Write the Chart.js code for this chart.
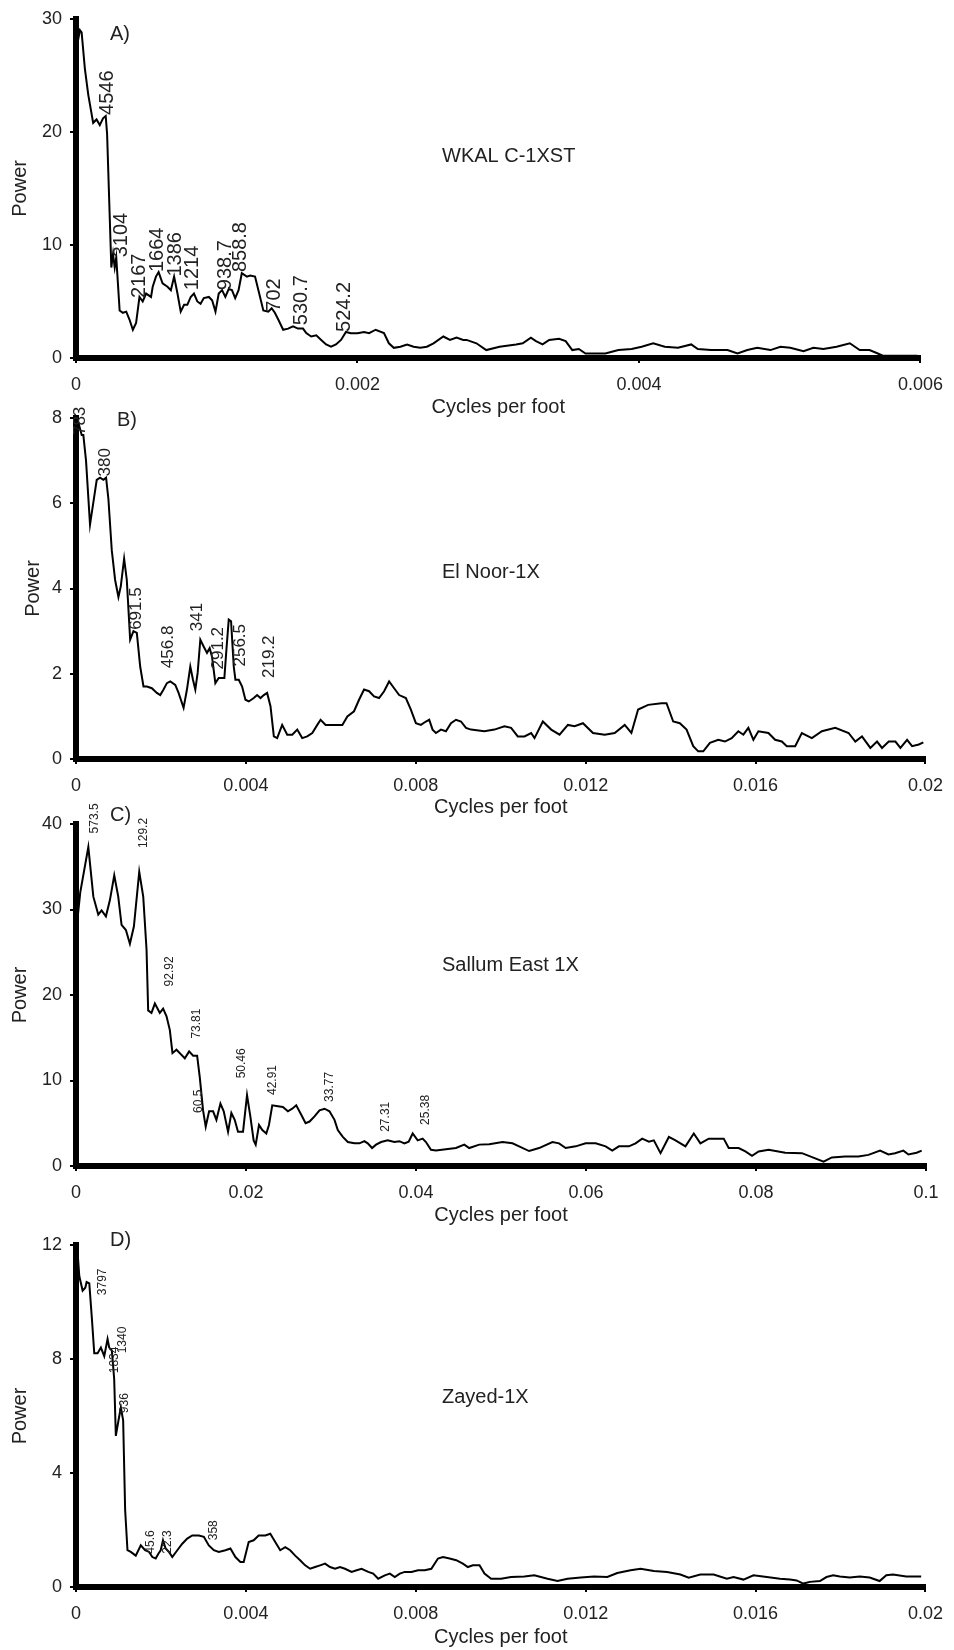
<!DOCTYPE html>
<html>
<head>
<meta charset="utf-8">
<script src="https://cdn.jsdelivr.net/npm/chart.js@4"></script>
<style>
  body { margin: 0; background: #fff; width: 954px; height: 1650px; overflow: hidden; position: relative; }
  canvas { position: absolute; left: 0; }
</style>
</head>
<body>
<canvas id="chartA" width="954" height="423" style="top:0px"></canvas>
<canvas id="chartB" width="954" height="433" style="top:390px"></canvas>
<canvas id="chartC" width="954" height="435" style="top:796px"></canvas>
<canvas id="chartD" width="954" height="431" style="top:1222px"></canvas>
<script>
// ---- A) WKAL C-1XST ----
const freqA = [0, 0.000016, 0.000028, 0.00004, 0.000063, 0.000087, 0.000122, 0.000146, 0.000169, 0.000192,
  0.000211, 0.000221, 0.000251, 0.000263, 0.000275, 0.000286, 0.00031, 0.000333, 0.000357, 0.00038,
  0.000404, 0.000427, 0.000451, 0.000474, 0.000498, 0.000533, 0.000545, 0.000568, 0.000587, 0.000615,
  0.00065, 0.000674, 0.000697, 0.000721, 0.000744, 0.000768, 0.000791, 0.000815, 0.000838, 0.000862,
  0.000885, 0.000908, 0.000944, 0.000967, 0.000991, 0.001014, 0.001038, 0.001061, 0.001085, 0.001108,
  0.001131, 0.001155, 0.001178, 0.001214, 0.001237, 0.001272, 0.001296, 0.001331, 0.001366, 0.00139,
  0.001413, 0.001437, 0.001472, 0.001507, 0.001542, 0.001577, 0.001613, 0.001636, 0.001671, 0.001707,
  0.001742, 0.001777, 0.001812, 0.001847, 0.001883, 0.001918, 0.001953, 0.002, 0.002047, 0.002082,
  0.002129, 0.002188, 0.002223, 0.002258, 0.002305, 0.002352, 0.002399, 0.002446, 0.002493, 0.00254,
  0.00261, 0.002657, 0.002704, 0.002751, 0.002775, 0.002845, 0.002915, 0.003009, 0.003127, 0.003174,
  0.003232, 0.003268, 0.003315, 0.003362, 0.003432, 0.003479, 0.003526, 0.003573, 0.00362, 0.003667,
  0.003761, 0.003854, 0.003948, 0.004019, 0.004101, 0.004183, 0.004277, 0.004371, 0.004418, 0.004512,
  0.004629, 0.0047, 0.00477, 0.00484, 0.004934, 0.005005, 0.005075, 0.005169, 0.005239, 0.00531,
  0.005404, 0.005498, 0.005568, 0.005638, 0.005697, 0.005732, 0.005979];
const powerA = [30, 28.2, 29, 28.8, 25.6, 23.3, 20.8, 21.1, 20.6, 21.2,
  21.4, 19.8, 8.0, 9.2, 8.0, 8.9, 4.2, 4.0, 4.1, 3.4,
  2.5, 3.1, 5.4, 5.0, 5.7, 5.4, 6.3, 7.2, 7.6, 6.6,
  6.3, 6.0, 7.2, 5.7, 4.1, 4.7, 4.7, 5.4, 5.7, 5.0,
  4.8, 5.3, 5.4, 5.1, 4.1, 5.7, 6.0, 5.4, 6.1, 6.0,
  5.3, 6.0, 7.5, 7.2, 7.3, 7.2, 6.0, 4.2, 4.1, 4.4,
  4.0, 3.4, 2.5, 2.6, 2.8, 2.6, 2.6, 2.2, 1.9, 2.0,
  1.6, 1.2, 1.0, 1.2, 1.6, 2.3, 2.2, 2.2, 2.3, 2.2,
  2.5, 2.2, 1.3, 0.9, 1.0, 1.2, 1.0, 0.9, 1.0, 1.3,
  1.9, 1.6, 1.8, 1.6, 1.6, 1.3, 0.7, 1.0, 1.2, 1.3,
  1.8, 1.5, 1.2, 1.6, 1.7, 1.5, 0.7, 0.8, 0.4, 0.4,
  0.4, 0.7, 0.8, 1.0, 1.3, 1.0, 0.9, 1.2, 0.8, 0.7,
  0.7, 0.4, 0.7, 0.9, 0.7, 1.0, 0.9, 0.6, 0.9, 0.8,
  1.0, 1.3, 0.7, 0.7, 0.4, 0.2, 0.2];
const peakTextA = ['4546', '3104', '2167', '1664', '1386', '1214', '938.7', '858.8', '702', '530.7', '524.2'];
const peakXA = [0.000221, 0.000322, 0.000451, 0.00058, 0.000709, 0.000826, 0.001061, 0.001167, 0.001413, 0.001601, 0.001906];
const peakYA = [21.5, 8.9, 5.3, 7.6, 7.2, 6.0, 6.0, 7.6, 4.1, 2.9, 2.3];
const xTicksA = [0, 0.002, 0.004, 0.006];
const yTicksA = [0, 10, 20, 30];

// ---- B) El Noor-1X ----
const freqB = [0, 0.000055, 0.000134, 0.000173, 0.000236, 0.00033, 0.000488, 0.000566, 0.000645, 0.000708,
  0.000763, 0.000842, 0.000921, 0.000999, 0.001054, 0.001133, 0.001196, 0.001275, 0.001353, 0.001432,
  0.001511, 0.001589, 0.001668, 0.001786, 0.001904, 0.001983, 0.002061, 0.00214, 0.002219, 0.002337,
  0.002415, 0.002533, 0.002612, 0.002691, 0.002754, 0.002809, 0.002864, 0.002927, 0.003005, 0.003084,
  0.003147, 0.003202, 0.003281, 0.00336, 0.003438, 0.003493, 0.003541, 0.003596, 0.003651, 0.003714,
  0.003753, 0.003832, 0.003911, 0.003989, 0.004068, 0.004186, 0.004264, 0.004343, 0.004422, 0.0045,
  0.004579, 0.004658, 0.004736, 0.004854, 0.004973, 0.005091, 0.005209, 0.005326, 0.005444, 0.005563,
  0.005681, 0.005759, 0.005877, 0.006074, 0.006271, 0.006389, 0.006546, 0.006664, 0.006782, 0.0069,
  0.007018, 0.007136, 0.007254, 0.007372, 0.00749, 0.007608, 0.007766, 0.007884, 0.008002, 0.00812,
  0.008238, 0.008316, 0.008395, 0.008474, 0.008592, 0.00871, 0.008828, 0.008946, 0.009064, 0.009182,
  0.0093, 0.009614, 0.009851, 0.010087, 0.010244, 0.010401, 0.010559, 0.010716, 0.010795, 0.010991,
  0.011188, 0.011385, 0.011581, 0.011739, 0.011936, 0.012172, 0.012447, 0.012683, 0.012919, 0.013076,
  0.013234, 0.01347, 0.013785, 0.013903, 0.01406, 0.014217, 0.014375, 0.014532, 0.01465, 0.014768,
  0.014925, 0.015122, 0.015279, 0.015437, 0.015594, 0.015712, 0.01583, 0.015948, 0.016066, 0.016302,
  0.01646, 0.016617, 0.016735, 0.016932, 0.017089, 0.017325, 0.017561, 0.017876, 0.01819, 0.018348,
  0.018505, 0.018702, 0.018859, 0.018977, 0.019135, 0.019292, 0.01941, 0.019567, 0.019685, 0.019843,
  0.01995];
const powerB = [8.0, 7.9, 7.6, 7.6, 7.0, 5.5, 6.55, 6.6, 6.55, 6.6,
  6.1, 4.9, 4.2, 3.8, 4.05, 4.7, 4.2, 2.8, 3.0, 2.96,
  2.17, 1.7, 1.7, 1.66, 1.55, 1.5, 1.63, 1.78, 1.82, 1.74,
  1.55, 1.2, 1.63, 2.17, 1.86, 1.63, 2.02, 2.8, 2.64, 2.49,
  2.6, 2.4, 1.78, 1.9, 1.9, 1.9, 2.56, 3.27, 3.23, 2.17,
  1.86, 1.86, 1.7, 1.39, 1.35, 1.43, 1.5, 1.43, 1.5, 1.55,
  1.24, 0.53, 0.49, 0.8, 0.57, 0.57, 0.69, 0.49, 0.53, 0.61,
  0.8, 0.92, 0.8, 0.8, 0.8, 1.0, 1.12, 1.39, 1.63, 1.59,
  1.47, 1.43, 1.59, 1.82, 1.66, 1.5, 1.43, 1.16, 0.84, 0.8,
  0.88, 0.92, 0.69, 0.61, 0.69, 0.65, 0.84, 0.92, 0.88, 0.73,
  0.69, 0.65, 0.69, 0.77, 0.73, 0.53, 0.53, 0.61, 0.49, 0.88,
  0.69, 0.57, 0.8, 0.77, 0.84, 0.61, 0.57, 0.61, 0.8, 0.61,
  1.16, 1.27, 1.31, 1.31, 0.88, 0.84, 0.69, 0.3, 0.18, 0.18,
  0.38, 0.45, 0.41, 0.49, 0.65, 0.57, 0.73, 0.45, 0.65, 0.61,
  0.45, 0.41, 0.3, 0.3, 0.61, 0.49, 0.65, 0.73, 0.61, 0.41,
  0.53, 0.26, 0.41, 0.26, 0.41, 0.41, 0.26, 0.45, 0.3, 0.34,
  0.39];
const peakTextB = ['783', '380', '691.5', '456.8', '341', '291.2', '256.5', '219.2'];
const peakXB = [0.000094, 0.000685, 0.00143, 0.00218, 0.00285, 0.00336, 0.00387, 0.00454];
const peakYB = [7.6, 6.63, 3.03, 2.13, 3.0, 2.1, 2.17, 1.9];
const xTicksB = [0, 0.004, 0.008, 0.012, 0.016, 0.02];
const yTicksB = [0, 2, 4, 6, 8];

// ---- C) Sallum East 1X ----
const freqC = [0, 0.0005, 0.00145, 0.00204, 0.00262, 0.00301, 0.00352, 0.00399, 0.0045, 0.00497,
  0.00536, 0.00587, 0.00634, 0.00681, 0.00744, 0.00791, 0.0083, 0.00849, 0.00888, 0.00928,
  0.00986, 0.01025, 0.01065, 0.01104, 0.01135, 0.01182, 0.01241, 0.0128, 0.01331, 0.01378,
  0.01425, 0.01456, 0.01495, 0.01526, 0.01566, 0.01613, 0.01652, 0.01699, 0.01738, 0.01789,
  0.01828, 0.01867, 0.01906, 0.01965, 0.02012, 0.02051, 0.0209, 0.02114, 0.02153, 0.02192,
  0.02239, 0.0227, 0.02309, 0.02376, 0.02434, 0.02493, 0.02544, 0.02591, 0.0265, 0.02701,
  0.02748, 0.02806, 0.02865, 0.02924, 0.02982, 0.03041, 0.0308, 0.03139, 0.03198, 0.03276,
  0.03335, 0.03393, 0.03432, 0.03483, 0.0353, 0.03589, 0.03667, 0.03746, 0.03804, 0.03863,
  0.03914, 0.03961, 0.0402, 0.04078, 0.04117, 0.04176, 0.04235, 0.04352, 0.0447, 0.04568,
  0.04626, 0.04744, 0.04861, 0.05018, 0.05135, 0.05213, 0.05331, 0.05448, 0.05605, 0.05683,
  0.05761, 0.05879, 0.05996, 0.06114, 0.06231, 0.06309, 0.06387, 0.06505, 0.06583, 0.06661,
  0.0674, 0.06798, 0.06877, 0.06975, 0.07053, 0.0717, 0.07268, 0.07346, 0.07444, 0.07562,
  0.0762, 0.07679, 0.07796, 0.07875, 0.07953, 0.08031, 0.08149, 0.08344, 0.0854, 0.08697,
  0.08795, 0.08892, 0.09049, 0.09205, 0.09323, 0.0946, 0.09558, 0.09636, 0.09734, 0.09793,
  0.0989, 0.09949];
const powerC = [27.2, 32, 37.3, 31.5, 29.4, 29.9, 29.2, 31.1, 34.0, 31.5,
  28.2, 27.6, 26.0, 28.0, 34.4, 31.5, 25.3, 18.2, 17.9, 19.0,
  17.9, 18.4, 17.5, 15.9, 13.2, 13.6, 13.0, 12.6, 13.4, 12.9,
  12.9, 10.4, 6.5, 4.6, 6.4, 6.4, 5.4, 7.3, 6.4, 4.0,
  6.2, 5.4, 4.0, 4.0, 8.3, 5.8, 3.0, 2.5, 4.8, 4.2,
  3.8, 4.8, 7.1, 7.0, 6.9, 6.4, 6.7, 7.1, 6.0, 5.0,
  5.2, 5.8, 6.5, 6.7, 6.4, 5.4, 4.2, 3.4, 2.8, 2.65,
  2.65, 2.9, 2.65, 2.1, 2.5, 2.8, 3.0, 2.8, 2.9, 2.65,
  2.85, 3.8, 3.0, 3.2, 2.8, 1.9, 1.8, 1.95, 2.1, 2.5,
  2.1, 2.5, 2.55, 2.8, 2.65, 2.3, 1.75, 2.1, 2.8, 2.65,
  2.1, 2.3, 2.65, 2.65, 2.3, 1.8, 2.3, 2.3, 2.65, 3.2,
  2.85, 3.0, 1.5, 3.4, 3.0, 2.3, 3.8, 2.65, 3.2, 3.2,
  3.2, 2.1, 2.1, 1.7, 1.2, 1.7, 1.9, 1.55, 1.5, 0.9,
  0.5, 1.0, 1.1, 1.1, 1.3, 1.8, 1.35, 1.5, 1.8, 1.35,
  1.55, 1.8];
const peakTextC = ['573.5', '129.2', '92.92', '73.81', '60.5', '50.46', '42.91', '33.77', '27.31', '25.38'];
const peakXC = [0.00223, 0.00791, 0.01104, 0.01417, 0.01444, 0.01945, 0.02317, 0.02982, 0.03648, 0.04117];
const peakYC = [38.9, 37.2, 21.0, 14.9, 6.2, 10.25, 8.3, 7.5, 4.0, 4.8];
const xTicksC = [0, 0.02, 0.04, 0.06, 0.08, 0.1];
const yTicksC = [0, 10, 20, 30, 40];

// ---- D) Zayed-1X ----
const freqD = [0, 0.000039, 0.000078, 0.000156, 0.000219, 0.00025, 0.000313, 0.000375, 0.00043, 0.000508,
  0.000586, 0.000665, 0.000743, 0.000782, 0.000844, 0.000899, 0.000938, 0.001001, 0.001056, 0.00111,
  0.001157, 0.001212, 0.00129, 0.001407, 0.001525, 0.001626, 0.00172, 0.001798, 0.001876, 0.001939,
  0.001994, 0.002048, 0.002111, 0.002189, 0.002267, 0.002385, 0.002502, 0.002619, 0.002737, 0.002893,
  0.00301, 0.003127, 0.003245, 0.003362, 0.003518, 0.003636, 0.003753, 0.00387, 0.003948, 0.004066,
  0.004183, 0.0043, 0.004457, 0.004574, 0.004691, 0.004808, 0.004926, 0.005043, 0.00516, 0.005277,
  0.005395, 0.005512, 0.005629, 0.005747, 0.005864, 0.005981, 0.006099, 0.006216, 0.006333, 0.006489,
  0.006607, 0.006724, 0.00688, 0.006998, 0.007115, 0.007271, 0.007389, 0.007506, 0.007623, 0.00774,
  0.007897, 0.008053, 0.00821, 0.008366, 0.008522, 0.00864, 0.008796, 0.008952, 0.009109, 0.009226,
  0.009343, 0.0095, 0.009617, 0.009773, 0.010008, 0.010242, 0.010555, 0.01079, 0.011102, 0.011337,
  0.011572, 0.011884, 0.012197, 0.01251, 0.012744, 0.013057, 0.013292, 0.013604, 0.013917, 0.01423,
  0.014425, 0.014699, 0.015012, 0.015324, 0.015481, 0.015715, 0.01595, 0.016263, 0.016575, 0.01681,
  0.016966, 0.017123, 0.017279, 0.017514, 0.01767, 0.017826, 0.017983, 0.018218, 0.018452, 0.018686,
  0.018921, 0.019077, 0.019234, 0.019547, 0.019898];
const powerD = [11.9, 11.7, 10.9, 10.4, 10.5, 10.7, 10.65, 9.4, 8.2, 8.2,
  8.4, 8.1, 8.7, 8.4, 8.3, 7.3, 5.3, 5.85, 6.3, 5.85,
  2.7, 1.29, 1.23, 1.1, 1.46, 1.29, 1.23, 1.05, 1.0, 1.17,
  1.29, 1.64, 1.35, 1.23, 1.05, 1.29, 1.52, 1.7, 1.81, 1.81,
  1.76, 1.46, 1.29, 1.23, 1.29, 1.35, 1.05, 0.88, 0.88, 1.58,
  1.64, 1.81, 1.81, 1.87, 1.58, 1.29, 1.4, 1.29, 1.1, 0.94,
  0.76, 0.64, 0.7, 0.76, 0.82, 0.7, 0.64, 0.7, 0.64, 0.53,
  0.59, 0.64, 0.53, 0.47, 0.29, 0.41, 0.47, 0.35, 0.47, 0.53,
  0.53, 0.59, 0.59, 0.64, 1.0, 1.05, 1.0, 0.94, 0.82, 0.7,
  0.76, 0.76, 0.47, 0.29, 0.29, 0.35, 0.37, 0.41, 0.29, 0.21,
  0.29, 0.33, 0.37, 0.35, 0.49, 0.59, 0.64, 0.56, 0.53, 0.44,
  0.33, 0.44, 0.44, 0.29, 0.35, 0.26, 0.41, 0.35, 0.29, 0.26,
  0.23, 0.12, 0.18, 0.21, 0.35, 0.41, 0.37, 0.33, 0.37, 0.33,
  0.21, 0.41, 0.44, 0.37, 0.37];
const peakTextD = ['3797', '1834', '1340', '936', '45.6', '22.3', '358'];
const peakXD = [0.000625, 0.0009, 0.001095, 0.001157, 0.00176, 0.00215, 0.00324];
const peakYD = [10.24, 7.5, 8.2, 6.1, 1.17, 1.17, 1.64];
const xTicksD = [0, 0.004, 0.008, 0.012, 0.016, 0.02];
const yTicksD = [0, 4, 8, 12];

const FONT = '"Liberation Sans", Arial, sans-serif';
Chart.defaults.font.family = FONT;
Chart.defaults.color = '#222';

// rotated period labels + panel letter + well name
const peakLabels = {
  id: 'peakLabels',
  afterDatasetsDraw(chart, args, o) {
    const ctx = chart.ctx, xs = chart.scales.x, ys = chart.scales.y, a = chart.chartArea;
    ctx.save();
    ctx.fillStyle = '#222';
    ctx.textBaseline = 'middle';
    ctx.textAlign = 'left';
    ctx.font = o.size + 'px ' + FONT;
    o.text.forEach((t, i) => {
      ctx.save();
      ctx.translate(xs.getPixelForValue(o.x[i]), ys.getPixelForValue(o.y[i]));
      ctx.rotate(-Math.PI / 2);
      ctx.fillText(t, 0, 0);
      ctx.restore();
    });
    ctx.font = '20px ' + FONT;
    ctx.fillText(o.tag, a.left + o.tagPos[0], a.top + o.tagPos[1]);
    ctx.fillText(o.well, a.left + 366, a.top + o.wellDy);
    ctx.restore();
  }
};

function makePanel(id, p) {
  const pts = p.freq.map((f, i) => ({x: f, y: p.power[i]}));
  new Chart(document.getElementById(id), {
    type: 'line',
    data: { datasets: [{ data: pts, borderColor: '#000', borderWidth: 2, pointRadius: 0, tension: 0, clip: 8 }] },
    plugins: [peakLabels],
    options: {
      responsive: false,
      animation: false,
      layout: { padding: { top: p.padTop, right: 28, left: 0, bottom: 0 } },
      plugins: {
        legend: { display: false },
        tooltip: { enabled: false },
        peakLabels: { text: p.peakText, x: p.peakX, y: p.peakY, size: p.labelSize,
                      tag: p.tag, tagPos: p.tagPos, well: p.well, wellDy: p.wellDy }
      },
      scales: {
        x: {
          type: 'linear', min: 0, max: p.xTicks[p.xTicks.length - 1],
          afterBuildTicks: s => { s.ticks = p.xTicks.map(v => ({ value: v })); },
          afterFit: s => { s.height = p.xHeight; },
          border: { color: '#000', width: 6 },
          grid: { drawOnChartArea: false, drawTicks: true, tickLength: 5, color: '#000', lineWidth: 2 },
          ticks: { padding: 11, maxRotation: 0, autoSkip: false, font: { size: 18 },
                   callback: v => String(+v.toFixed(4)) },
          title: { display: true, text: 'Cycles per foot', font: { size: 20 }, padding: { top: 0, bottom: 4 } }
        },
        y: {
          type: 'linear', min: 0, max: p.yTicks[p.yTicks.length - 1],
          afterBuildTicks: s => { s.ticks = p.yTicks.map(v => ({ value: v })); },
          afterFit: s => { s.width = 76; },
          border: { color: '#000', width: 6 },
          grid: { drawOnChartArea: false, drawTicks: true, tickLength: 6, color: '#000', lineWidth: 2 },
          ticks: { padding: 8, font: { size: 18 } },
          title: { display: true, text: 'Power', font: { size: 20 }, padding: { top: p.powerPad, bottom: 0 } }
        }
      }
    }
  });
}

makePanel('chartA', { freq: freqA, power: powerA, peakText: peakTextA, peakX: peakXA, peakY: peakYA,
  xTicks: xTicksA, yTicks: yTicksA, padTop: 17, xHeight: 65, labelSize: 20, powerPad: 8,
  tag: 'A)', tagPos: [34, 16], well: 'WKAL C-1XST', wellDy: 138 });
makePanel('chartB', { freq: freqB, power: powerB, peakText: peakTextB, peakX: peakXB, peakY: peakYB,
  xTicks: xTicksB, yTicks: yTicksB, padTop: 28, xHeight: 64, labelSize: 17, powerPad: 21,
  tag: 'B)', tagPos: [41, 2], well: 'El Noor-1X', wellDy: 154 });
makePanel('chartC', { freq: freqC, power: powerC, peakText: peakTextC, peakX: peakXC, peakY: peakYC,
  xTicks: xTicksC, yTicks: yTicksC, padTop: 28, xHeight: 65, labelSize: 12, powerPad: 8,
  tag: 'C)', tagPos: [34, -9], well: 'Sallum East 1X', wellDy: 141 });
makePanel('chartD', { freq: freqD, power: powerD, peakText: peakTextD, peakX: peakXD, peakY: peakYD,
  xTicks: xTicksD, yTicks: yTicksD, padTop: 23, xHeight: 66, labelSize: 12, powerPad: 8,
  tag: 'D)', tagPos: [34, -5], well: 'Zayed-1X', wellDy: 152 });
</script>
</body>
</html>
